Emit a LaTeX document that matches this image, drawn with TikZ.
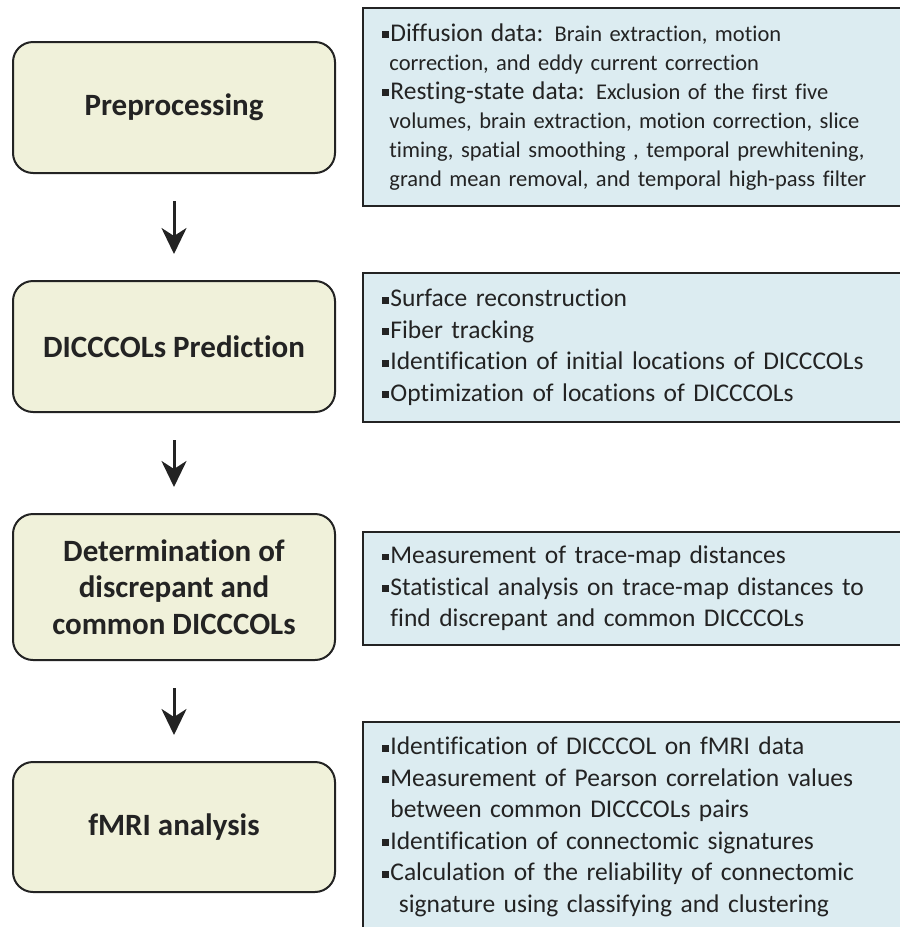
\documentclass[tikz,border=0pt]{standalone}
\usepackage{fontspec}
\setmainfont{Carlito}[Ligatures={NoCommon,NoDiscretionary}]
\usetikzlibrary{arrows.meta}

\definecolor{stepfill}{RGB}{240,241,218}
\definecolor{notefill}{RGB}{220,236,241}
\definecolor{ink}{RGB}{35,35,35}
\newcommand{\sq}{\makebox[0.33em][l]{\rule[0.13em]{0.27em}{0.27em}}}
\newcommand{\ind}{\hspace*{0.33em}}
\newcommand{\headfont}{\fontsize{25.5}{29}\selectfont}

\begin{document}
\begin{tikzpicture}[x=1pt, y=-1pt,
    stepbox/.style={draw=ink, line width=2pt, rounded corners=20pt, fill=stepfill, minimum width=322pt, align=center, text=ink, font=\fontsize{31}{36.5}\selectfont\bfseries},
    notebox/.style={draw=ink, line width=2pt, fill=notefill, anchor=west, text width=500pt, inner xsep=19pt, align=left, text=ink, font=\fontsize{25.5}{31.5}\selectfont},
    flow/.style={-{Stealth[length=26pt, width=25pt, inset=8pt]}, line width=3pt, ink, shorten <=27pt, shorten >=26pt}]
\useasboundingbox (0,0) rectangle (900,927);
\clip (0,0) rectangle (900,927);

% steps
\node[stepbox, minimum height=131pt] (pre)  at (174,107.5) {Preprocessing};
\node[stepbox, minimum height=131pt] (pred) at (174,346.5) {DICCCOLs Prediction};
\node[stepbox, minimum height=146pt] (det)  at (174,587)   {Determination of\\discrepant and\\common DICCCOLs};
\node[stepbox, minimum height=130pt] (fmri) at (174,827)   {fMRI analysis};

% notes
\node[notebox, minimum height=198pt, font=\fontsize{22.5}{29}\selectfont] (preN) at (362,107) {%
  {\headfont\sq Diffusion data:} Brain extraction, motion\\
  \ind correction, and eddy current correction\\
  {\headfont\sq Resting-state data:} Exclusion of the first five\\
  \ind volumes, brain extraction, motion correction, slice\\
  \ind timing, spatial smoothing , temporal prewhitening,\\
  \ind grand mean removal, and temporal high-pass filter};
\node[notebox, minimum height=149pt] (predN) at (362,347.5) {%
  \sq Surface reconstruction\\
  \sq Fiber tracking\\
  \sq Identification of initial locations of DICCCOLs\\
  \sq Optimization of locations of DICCCOLs};
\node[notebox, minimum height=113pt] (detN) at (362,588.5) {%
  \sq Measurement of trace-map distances\\
  \sq Statistical analysis on trace-map distances to\\
  \ind find discrepant and common DICCCOLs};
\node[notebox, minimum height=210pt] (fmriN) at (362,827) {%
  \sq Identification of DICCCOL on fMRI data\\
  \sq Measurement of Pearson correlation values\\
  \ind between common DICCCOLs pairs\\
  \sq Identification of connectomic signatures\\
  \sq Calculation of the reliability of connectomic\\
  \ind\ind signature using classifying and clustering};

\draw[flow] (pre) -- (pred);
\draw[flow] (pred) -- (det);
\draw[flow] (det) -- (fmri);
\end{tikzpicture}
\end{document}
